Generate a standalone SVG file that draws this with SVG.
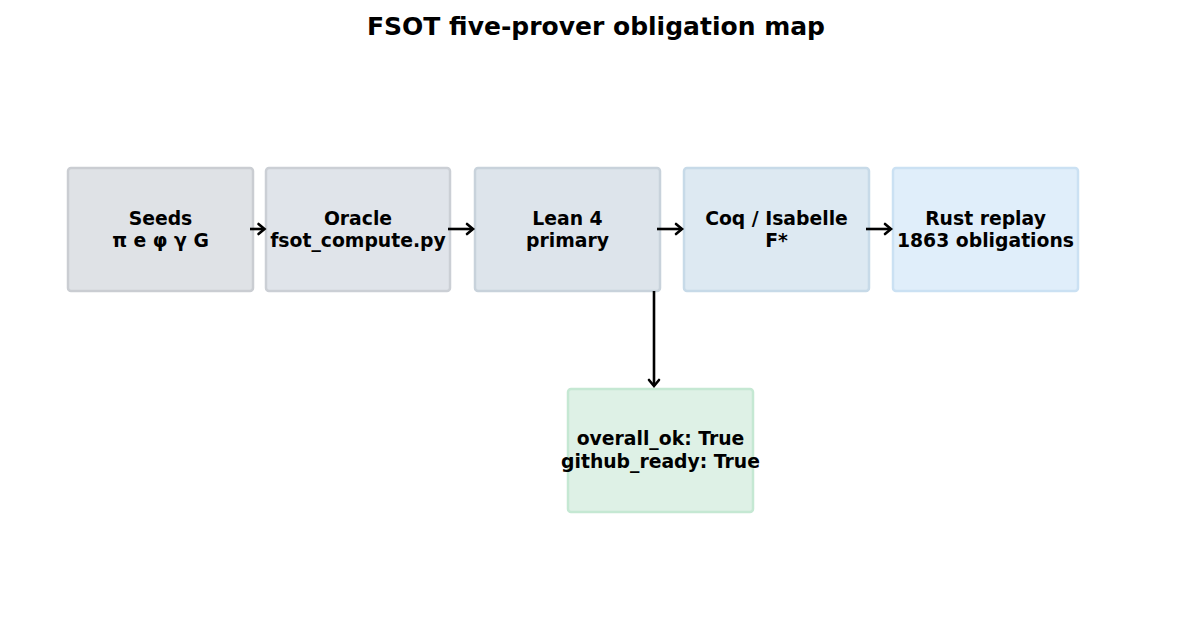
<svg xmlns="http://www.w3.org/2000/svg" width="1192" height="639" viewBox="0 0 1192 639">
<defs>
<style>
.t{font-family:"DejaVu Sans",sans-serif;font-weight:bold;fill:#000}
.lbl{font-size:18.8px;text-anchor:middle}
.box{stroke-width:2.5}
.c{stroke:#000;stroke-width:2.6;fill:none;stroke-linecap:butt}
.h{stroke:#000;stroke-width:2.6;fill:none;stroke-linecap:round;stroke-linejoin:miter}
</style>
</defs>
<rect width="1192" height="639" fill="#fff"/>
<text class="t" x="596" y="35" font-size="25" text-anchor="middle">FSOT five-prover obligation map</text>
<g id="seeds">
<rect class="box" x="68" y="168" width="185" height="123" rx="3" fill="#dfe2e6" stroke="#cacdd2"/>
<text class="t lbl" x="160.5" y="225">Seeds</text>
<text class="t lbl" x="160.5" y="247">π e φ γ G</text>
</g>
<g id="oracle">
<rect class="box" x="266" y="168" width="184" height="123" rx="3" fill="#e0e4ea" stroke="#cbcfd5"/>
<text class="t lbl" x="358" y="225">Oracle</text>
<text class="t lbl" x="358" y="247">fsot_compute.py</text>
</g>
<g id="lean">
<rect class="box" x="475" y="168" width="185" height="123" rx="3" fill="#dde4eb" stroke="#c8d2db"/>
<text class="t lbl" x="567.5" y="225">Lean 4</text>
<text class="t lbl" x="567.5" y="247">primary</text>
</g>
<g id="coq">
<rect class="box" x="684" y="168" width="185" height="123" rx="3" fill="#dde9f2" stroke="#c7dae8"/>
<text class="t lbl" x="776.5" y="225">Coq / Isabelle</text>
<text class="t lbl" x="776.5" y="247">F*</text>
</g>
<g id="rust">
<rect class="box" x="893" y="168" width="185" height="123" rx="3" fill="#e0eefa" stroke="#cbe1f3"/>
<text class="t lbl" x="985.5" y="225">Rust replay</text>
<text class="t lbl" x="985.5" y="247">1863 obligations</text>
</g>
<g id="result">
<rect class="box" x="568" y="389" width="185" height="123" rx="3" fill="#def1e6" stroke="#c5e8d3"/>
<text class="t lbl" x="660.5" y="445">overall_ok: True</text>
<text class="t lbl" x="660.5" y="468">github_ready: True</text>
</g>
<g id="connectors">
<path class="c" d="M250 229H264"/><path class="h" d="M258.5 224L264.5 229L258.5 234"/>
<path class="c" d="M448 229H473"/><path class="h" d="M467 224L473 229L467 234"/>
<path class="c" d="M657 229H682"/><path class="h" d="M676 224L682 229L676 234"/>
<path class="c" d="M866 229H891"/><path class="h" d="M885 224L891 229L885 234"/>
<path class="c" d="M654 291V386"/><path class="h" d="M649 380L654 386L659 380"/>
</g>
</svg>
